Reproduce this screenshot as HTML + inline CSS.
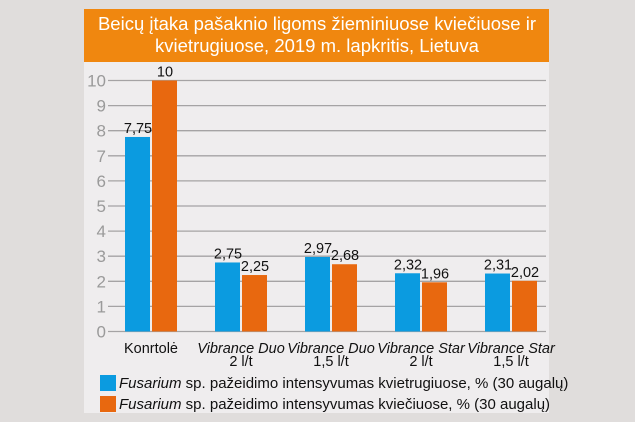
<!DOCTYPE html>
<html><head><meta charset="utf-8"><style>
body{margin:0;width:635px;height:422px;background:#e0dddc;overflow:hidden;font-family:"Liberation Sans",sans-serif}
</style></head><body>
<svg width="635" height="422" style="position:absolute;left:0;top:0">
<rect x="84" y="9" width="465" height="404" fill="#efedee"/>
<rect x="84" y="9" width="465" height="53" fill="#f0870f"/>
<text x="317" y="30" text-anchor="middle" fill="#fff" font-size="18.5">Beicų įtaka pašaknio ligoms žieminiuose kviečiuose ir</text>
<text x="317" y="52" text-anchor="middle" fill="#fff" font-size="18.5">kvietrugiuose, 2019 m. lapkritis, Lietuva</text>
<g id="grid"></g><g id="bars"></g><g id="labels"></g>
<rect x="100" y="375" width="16" height="16" fill="#0b9be0"/>
<text x="119" y="388" font-size="15" fill="#111"><tspan font-style="italic">Fusarium</tspan> sp. pažeidimo intensyvumas kvietrugiuose, % (30 augalų)</text>
<rect x="100" y="396" width="16" height="16" fill="#e8680f"/>
<text x="119" y="409" font-size="15" fill="#111"><tspan font-style="italic">Fusarium</tspan> sp. pažeidimo intensyvumas kviečiuose, % (30 augalų)</text>
</svg>
<script>
const categories=[["Konrtolė",""],["Vibrance Duo","2 l/t"],["Vibrance Duo","1,5 l/t"],["Vibrance Star","2 l/t"],["Vibrance Star","1,5 l/t"]];
const triticale=[7.75,2.75,2.97,2.32,2.31];
const wheat=[10,2.25,2.68,1.96,2.02];
const triticaleLabels=["7,75","2,75","2,97","2,32","2,31"];
const wheatLabels=["10","2,25","2,68","1,96","2,02"];
const yTicks=[0,1,2,3,4,5,6,7,8,9,10];
const NS="http://www.w3.org/2000/svg";
const y=v=>331.5-v*25.1;
const xc=i=>151+i*90;
function mk(t,a,p){const e=document.createElementNS(NS,t);for(const k in a)e.setAttribute(k,a[k]);p.appendChild(e);return e;}
const g=document.getElementById('grid'),b=document.getElementById('bars'),l=document.getElementById('labels');
yTicks.forEach(v=>{
 const ln=mk('line',{x1:108,x2:546,y1:y(v),y2:y(v),stroke:'#a5a3a4','stroke-width':1.3},g);
 
 
 const t=mk('text',{x:106,y:y(v)+6,'text-anchor':'end','font-size':17,fill:'#9a9a9a'},g);
 t.textContent=v;
 
 
});
categories.forEach((c,i)=>{
 const bx=xc(i);
 const r1=mk('rect',{x:bx-26,y:y(triticale[i]),width:25,height:y(0)-y(triticale[i]),fill:'#0b9be0'},b);
 
 
 const r2=mk('rect',{x:bx+1,y:y(wheat[i]),width:25,height:y(0)-y(wheat[i]),fill:'#e8680f'},b);
 
 
 const t1=mk('text',{x:bx-13,y:y(triticale[i])-4,'text-anchor':'middle','font-size':14.5,fill:'#111'},l);
 t1.textContent=triticaleLabels[i];
 
 
 const t2=mk('text',{x:bx+14,y:y(wheat[i])-4,'text-anchor':'middle','font-size':14.5,fill:'#111'},l);
 t2.textContent=wheatLabels[i];
 
 
 const c1=mk('text',{x:bx,y:353,'text-anchor':'middle','font-size':14.5,fill:'#111','font-style':i?'italic':'normal'},l);
 c1.textContent=c[0];
 
 
 if(c[1]){const c2=mk('text',{x:bx,y:366,'text-anchor':'middle','font-size':14.5,fill:'#111'},l);
 c2.textContent=c[1];
 
 }
});
</script>
</body></html>
